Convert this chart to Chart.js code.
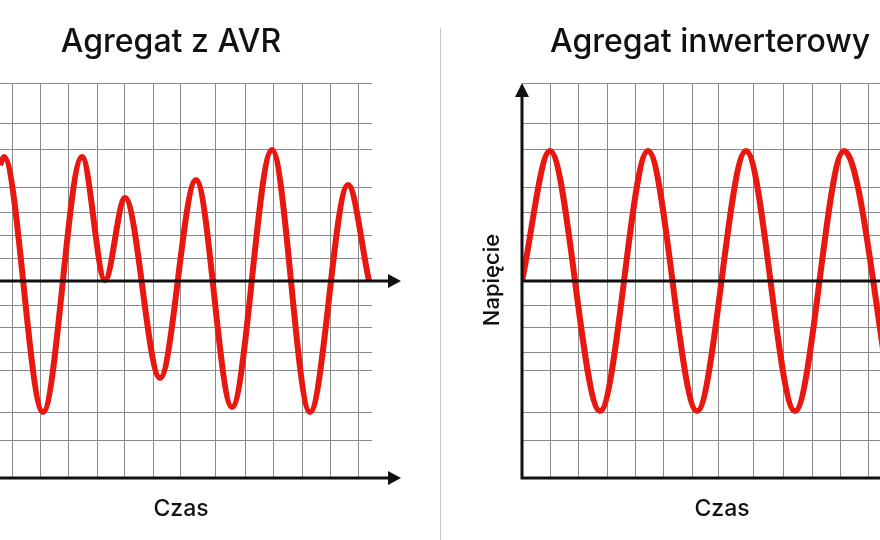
<!DOCTYPE html>
<html>
<head>
<meta charset="utf-8">
<script src="https://cdn.jsdelivr.net/npm/chart.js@4/dist/chart.umd.min.js"></script>
<style>
  body { margin: 0; background: #fff; }
  #wrap { position: relative; width: 880px; height: 540px; overflow: hidden; }
  canvas { position: absolute; top: 0; }
</style>
</head>
<body>
<div id="wrap">
  <canvas id="chart1" style="left:0"></canvas>
  <canvas id="chart2" style="left:440px"></canvas>
</div>
<script>
// unstable AVR voltage: peaks and troughs (x in grid units, y voltage)
const avrX = [0, 4, 43, 82, 105, 125, 160, 196, 232, 272, 310, 348, 369];
const avrY = [116, 124, -131, 124, 1, 83, -97, 101, -126, 131, -131, 96, 0];

// clean inverter sine
const invX = [0, 28, 78, 126, 175, 224, 273, 322, 371];
const invY = [0, 130, -130, 130, -130, 130, -130, 130, -130];

const gridLeftX = [12, 40, 68, 97, 125, 153, 180, 215, 245, 273, 302, 330, 358];
const gridRightX = [28, 56, 85, 113, 141, 170, 196, 231, 261, 290, 318, 346];
const gridY = [198, 158, 132, 94, 69, 46, 23, 0, -24, -46, -71, -89, -131, -159];

const titles = ['Agregat z AVR', 'Agregat inwerterowy'];
const xLabel = 'Czas';
const yLabel = 'Napięcie';

const RED = '#e8170f';
const FONT = 'Inter, "Open Sans", sans-serif';

function arrowRight(ctx, x, y) {
  ctx.beginPath();
  ctx.moveTo(x, y - 7);
  ctx.lineTo(x + 13, y);
  ctx.lineTo(x, y + 7);
  ctx.closePath();
  ctx.fill();
}

function makeChart(el, xs, ys, gridX, xMax, padding, side) {
  const overlay = {
    id: 'overlay',
    afterDraw(chart) {
      const ctx = chart.ctx;
      const a = chart.chartArea;
      const sy = chart.scales.y;
      const y0 = sy.getPixelForValue(0);
      ctx.save();
      ctx.fillStyle = '#111';
      ctx.strokeStyle = '#111';
      ctx.lineWidth = 3;
      if (side === 'left') {
        ctx.beginPath();
        ctx.moveTo(0, y0); ctx.lineTo(390, y0);
        ctx.moveTo(0, a.bottom); ctx.lineTo(390, a.bottom);
        ctx.stroke();
        arrowRight(ctx, 388, y0);
        arrowRight(ctx, 388, a.bottom);
      } else {
        ctx.beginPath();
        ctx.moveTo(a.left, y0); ctx.lineTo(a.right, y0);
        ctx.moveTo(a.left, a.bottom); ctx.lineTo(a.right, a.bottom);
        ctx.moveTo(a.left, a.bottom + 1.5); ctx.lineTo(a.left, a.top + 12);
        ctx.stroke();
        ctx.beginPath();
        ctx.moveTo(a.left - 7, a.top + 14);
        ctx.lineTo(a.left, a.top);
        ctx.lineTo(a.left + 7, a.top + 14);
        ctx.closePath();
        ctx.fill();
        // divider
        ctx.strokeStyle = '#c8c8c8';
        ctx.lineWidth = 1;
        ctx.beginPath();
        ctx.moveTo(0.5, 28); ctx.lineTo(0.5, 540);
        ctx.stroke();
        // y label
        ctx.save();
        ctx.translate(52, 280);
        ctx.rotate(-Math.PI / 2);
        ctx.fillStyle = '#111';
        ctx.font = '500 22px ' + FONT;
        ctx.textAlign = 'center';
        ctx.textBaseline = 'middle';
        ctx.fillText(yLabel, 0, 0);
        ctx.restore();
      }
      ctx.fillStyle = '#111';
      ctx.textBaseline = 'middle';
      ctx.font = '500 32px ' + FONT;
      if (side === 'left') {
        ctx.textAlign = 'center';
        ctx.fillText(titles[0], 171, 42);
      } else {
        ctx.textAlign = 'left';
        ctx.fillText(titles[1], 110, 42);
      }
      ctx.font = '500 23px ' + FONT;
      ctx.textAlign = 'center';
      ctx.fillText(xLabel, side === 'left' ? 181 : 282, 509);
      ctx.restore();
    }
  };

  return new Chart(el, {
    type: 'line',
    data: {
      datasets: [{
        data: xs.map((x, i) => ({ x: x, y: ys[i] })),
        borderColor: RED,
        borderWidth: 6,
        pointRadius: 0,
        cubicInterpolationMode: 'monotone',
        fill: false
      }]
    },
    options: {
      responsive: false,
      animation: false,
      layout: { padding: padding },
      plugins: { legend: { display: false }, tooltip: { enabled: false } },
      scales: {
        x: {
          type: 'linear', min: 0, max: xMax,
          afterBuildTicks: s => { s.ticks = gridX.map(v => ({ value: v })); },
          ticks: { display: false },
          grid: { color: '#8a8a8a', lineWidth: 1, drawTicks: false },
          border: { display: false }
        },
        y: {
          type: 'linear', min: -197, max: 198,
          afterBuildTicks: s => { s.ticks = gridY.map(v => ({ value: v })); },
          ticks: { display: false },
          grid: { color: '#8a8a8a', lineWidth: 1, drawTicks: false },
          border: { display: false }
        }
      }
    },
    plugins: [overlay]
  });
}

const c1 = document.getElementById('chart1');
const c2 = document.getElementById('chart2');
c1.width = 440; c1.height = 540;
c2.width = 440; c2.height = 540;

makeChart(c1, avrX, avrY, gridLeftX, 372, { left: 0, right: 68, top: 83, bottom: 62 }, 'left');
makeChart(c2, invX, invY, gridRightX, 358, { left: 82, right: 0, top: 83, bottom: 62 }, 'right');
</script>
</body>
</html>
